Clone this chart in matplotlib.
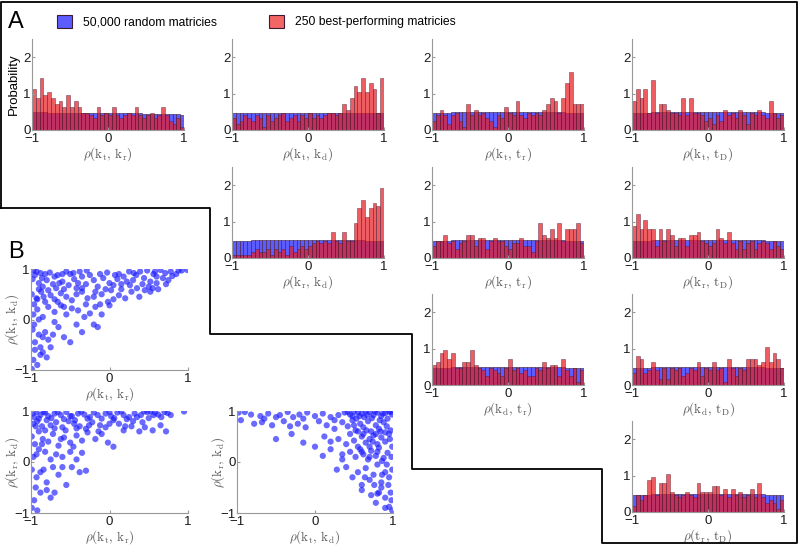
import numpy as np
import matplotlib.pyplot as plt
from matplotlib.patches import Patch
from matplotlib.lines import Line2D

plt.rcParams['font.family'] = ['Liberation Sans', 'DejaVu Sans']
plt.rcParams['mathtext.fontset'] = 'cm'

W, H = 800, 546

# 40 bins of width 0.05 on [-1, 1]
edges = np.linspace(-1, 1, 41)
centers = (edges[:-1] + edges[1:]) / 2

# --- red: 250 best-performing matrices (density) ---
red_kt_kr = [1.12, 0.88, 1.44, 0.96, 1.04, 0.88, 0.72, 0.80, 0.64, 0.96,
             0.64, 0.80, 0.64, 0.48, 0.48, 0.40, 0.32, 0.64, 0.40, 0.48,
             0.40, 0.64, 0.40, 0.32, 0.40, 0.48, 0.40, 0.64, 0.40, 0.32,
             0.40, 0.48, 0.32, 0.40, 0.64, 0.40, 0.24, 0.16, 0.32, 0.08]
red_kt_kd = [0.32, 0.16, 0.24, 0.40, 0.32, 0.24, 0.40, 0.32, 0.08, 0.40,
             0.24, 0.32, 0.40, 0.48, 0.24, 0.32, 0.40, 0.24, 0.40, 0.32,
             0.48, 0.32, 0.40, 0.32, 0.40, 0.48, 0.48, 0.40, 0.48, 0.72,
             0.56, 0.88, 1.20, 1.04, 1.44, 1.04, 1.28, 1.12, 0.48, 1.44]
red_kt_tr = [0.24, 0.40, 0.56, 0.40, 0.16, 0.40, 0.48, 0.24, 0.08, 0.72,
             0.40, 0.56, 0.40, 0.48, 0.32, 0.24, 0.08, 0.40, 0.32, 0.64,
             0.48, 0.40, 0.80, 0.40, 0.32, 0.48, 0.40, 0.48, 0.40, 0.56,
             0.72, 0.88, 0.80, 0.48, 0.88, 1.28, 1.60, 0.72, 0.72, 0.72]
red_kt_tD = [0.80, 1.12, 0.88, 1.12, 0.48, 1.36, 0.48, 0.72, 0.72, 0.56,
             0.48, 0.48, 0.40, 0.88, 0.40, 0.88, 0.48, 0.48, 0.40, 0.24,
             0.32, 0.16, 0.40, 0.24, 0.56, 0.40, 0.48, 0.32, 0.56, 0.40,
             0.16, 0.48, 0.40, 0.56, 0.40, 0.32, 0.80, 0.48, 0.32, 0.40]
red_kr_kd = [0.08, 0.08, 0.08, 0.08, 0.08, 0.16, 0.24, 0.16, 0.16, 0.24,
             0.08, 0.24, 0.16, 0.24, 0.08, 0.32, 0.16, 0.24, 0.32, 0.24,
             0.32, 0.40, 0.48, 0.40, 0.48, 0.40, 0.72, 0.48, 0.40, 0.72,
             0.48, 0.48, 0.96, 1.36, 1.60, 1.12, 1.36, 1.52, 1.44, 1.92]
red_kr_tr = [0.32, 0.48, 0.48, 0.64, 0.40, 0.48, 0.24, 0.40, 0.48, 0.64,
             0.64, 0.32, 0.56, 0.56, 0.24, 0.48, 0.56, 0.48, 0.48, 0.32,
             0.24, 0.40, 0.40, 0.56, 0.32, 0.32, 0.16, 0.48, 0.96, 0.64,
             0.56, 0.80, 0.56, 0.96, 0.48, 0.80, 0.80, 0.80, 0.96, 0.40]
red_kr_tD = [0.88, 1.20, 0.80, 1.04, 0.80, 0.80, 0.32, 0.80, 0.48, 0.80,
             0.64, 0.32, 0.56, 0.56, 0.32, 0.64, 0.64, 0.72, 0.48, 0.40,
             0.32, 0.40, 0.80, 0.56, 0.40, 0.72, 0.40, 0.24, 0.48, 0.24,
             0.40, 0.48, 0.24, 0.40, 0.48, 0.40, 0.24, 0.48, 0.32, 0.24]
red_kd_tr = [0.56, 0.64, 0.88, 0.96, 0.72, 0.88, 0.48, 0.48, 0.64, 0.64,
             0.96, 0.56, 0.48, 0.40, 0.24, 0.48, 0.40, 0.32, 0.24, 0.48,
             0.72, 0.40, 0.48, 0.32, 0.40, 0.24, 0.24, 0.48, 0.40, 0.64,
             0.48, 0.56, 0.56, 0.24, 0.72, 0.40, 0.24, 0.48, 0.08, 0.40]
red_kd_tD = [0.32, 0.80, 0.72, 0.32, 0.40, 0.64, 0.40, 0.16, 0.48, 0.16,
             0.48, 0.40, 0.48, 0.24, 0.32, 0.48, 0.40, 0.64, 0.24, 0.48,
             0.40, 0.64, 0.40, 0.48, 0.08, 0.72, 0.48, 0.24, 0.48, 0.40,
             0.72, 0.72, 0.72, 0.56, 0.64, 1.04, 0.64, 0.88, 0.72, 0.48]
red_tr_tD = [0.16, 0.48, 0.32, 0.48, 0.88, 0.96, 0.48, 0.80, 0.80, 1.04,
             0.56, 0.48, 0.40, 0.48, 0.56, 0.48, 0.40, 0.80, 0.56, 0.56,
             0.56, 0.72, 0.72, 0.48, 0.64, 0.40, 0.64, 0.48, 0.56, 0.40,
             0.48, 0.64, 0.40, 0.80, 0.40, 0.24, 0.32, 0.24, 0.08, 0.32]

# --- blue: 50,000 random matrices (density, close to uniform 0.5) ---
blue_kt_kr = [0.49, 0.49, 0.49, 0.49, 0.48, 0.48, 0.48, 0.48, 0.48, 0.48,
              0.48, 0.48, 0.48, 0.48, 0.47, 0.47, 0.47, 0.47, 0.47, 0.47,
              0.47, 0.47, 0.46, 0.46, 0.46, 0.46, 0.46, 0.46, 0.46, 0.45,
              0.45, 0.45, 0.45, 0.45, 0.44, 0.44, 0.44, 0.43, 0.43, 0.42]
blue_kt_kd = [0.46, 0.46, 0.47, 0.47, 0.47, 0.47, 0.47, 0.47, 0.48, 0.48,
              0.48, 0.48, 0.48, 0.48, 0.48, 0.48, 0.48, 0.48, 0.48, 0.48,
              0.48, 0.48, 0.48, 0.48, 0.48, 0.48, 0.48, 0.48, 0.48, 0.48,
              0.48, 0.48, 0.48, 0.48, 0.48, 0.48, 0.48, 0.48, 0.48, 0.48]
blue_flat = [0.47, 0.48, 0.48, 0.48, 0.48, 0.49, 0.49, 0.49, 0.49, 0.49,
             0.49, 0.49, 0.49, 0.49, 0.49, 0.49, 0.49, 0.49, 0.49, 0.49,
             0.49, 0.49, 0.49, 0.49, 0.49, 0.49, 0.49, 0.49, 0.49, 0.49,
             0.49, 0.49, 0.49, 0.49, 0.49, 0.48, 0.48, 0.48, 0.48, 0.47]

# (row, col, label, red, blue)
hist_panels = [
    (0, 0, r'$\rho(\mathrm{k_t},\,\mathrm{k_r})$', red_kt_kr, blue_kt_kr),
    (0, 1, r'$\rho(\mathrm{k_t},\,\mathrm{k_d})$', red_kt_kd, blue_kt_kd),
    (0, 2, r'$\rho(\mathrm{k_t},\,\mathrm{t_r})$', red_kt_tr, blue_flat),
    (0, 3, r'$\rho(\mathrm{k_t},\,\mathrm{t_D})$', red_kt_tD, blue_flat),
    (1, 1, r'$\rho(\mathrm{k_r},\,\mathrm{k_d})$', red_kr_kd, blue_flat),
    (1, 2, r'$\rho(\mathrm{k_r},\,\mathrm{t_r})$', red_kr_tr, blue_flat),
    (1, 3, r'$\rho(\mathrm{k_r},\,\mathrm{t_D})$', red_kr_tD, blue_flat),
    (2, 2, r'$\rho(\mathrm{k_d},\,\mathrm{t_r})$', red_kd_tr, blue_flat),
    (2, 3, r'$\rho(\mathrm{k_d},\,\mathrm{t_D})$', red_kd_tD, blue_flat),
    (3, 3, r'$\rho(\mathrm{t_r},\,\mathrm{t_D})$', red_tr_tD, blue_flat),
]

# --- B: scatter of the 250 best matrices ---
pts_b1 = [  # x = rho(kt,kr), y = rho(kt,kd)
    (-0.97, 0.97), (-0.93, 0.95), (-0.88, 0.92), (-0.82, 0.90), (-0.76, 0.93), (-0.66, 0.88),
    (-0.55, 0.95), (-0.50, 0.90), (-0.35, 0.85), (-0.29, 0.97), (-0.12, 0.90), (-0.03, 0.93),
    (0.07, 0.88), (0.18, 0.85), (0.31, 0.92), (0.39, 0.95), (0.48, 0.97), (0.56, 0.90),
    (0.65, 0.98), (0.71, 0.92), (0.92, 0.97), (0.99, 0.98),
    (-0.98, 0.80), (-0.90, 0.72), (-0.85, 0.65), (-0.80, 0.78), (-0.72, 0.70), (-0.68, 0.62),
    (-0.60, 0.75), (-0.52, 0.68), (-0.45, 0.80), (-0.40, 0.72), (-0.35, 0.62), (-0.30, 0.70),
    (-0.20, 0.78), (-0.15, 0.65), (-0.05, 0.60), (0.00, 0.72), (0.05, 0.68), (0.10, 0.80),
    (0.15, 0.70), (0.22, 0.75), (0.30, 0.78), (0.35, 0.62), (0.42, 0.70), (0.45, 0.58),
    (0.50, 0.65), (0.55, 0.62), (0.60, 0.72), (0.68, 0.82), (0.75, 0.78), (0.80, 0.86),
    (-0.99, 0.50), (-0.93, 0.42), (-0.87, 0.55), (-0.82, 0.35), (-0.75, 0.48), (-0.70, 0.40),
    (-0.62, 0.52), (-0.55, 0.45), (-0.48, 0.38), (-0.42, 0.50), (-0.35, 0.55), (-0.28, 0.42),
    (-0.20, 0.45), (-0.10, 0.50), (-0.02, 0.35), (0.05, 0.40), (0.12, 0.48), (0.20, 0.42),
    (0.28, 0.55), (0.38, 0.45), (0.52, 0.55),
    (-0.97, 0.10), (-0.92, 0.20), (-0.85, 0.05), (-0.78, 0.25), (-0.70, 0.15), (-0.62, 0.28),
    (-0.55, 0.10), (-0.48, 0.22), (-0.40, 0.18), (-0.32, 0.05), (-0.25, 0.12), (-0.18, 0.25),
    (-0.10, 0.10), (0.00, 0.28),
    (-0.98, -0.20), (-0.95, -0.45), (-0.90, -0.30), (-0.85, -0.35), (-0.82, -0.25), (-0.78, -0.40),
    (-0.72, -0.30), (-0.65, -0.15), (-0.58, -0.35), (-0.50, -0.45), (-0.42, -0.10), (-0.35, -0.25),
    (-0.20, -0.10), (-0.15, -0.15),
    (-0.99, -0.98), (-0.97, -0.80), (-0.95, -0.60), (-0.92, -0.90), (-0.88, -0.70), (-0.85, -0.65),
    (-0.80, -0.75), (-0.75, -0.55),
    (-0.95, 0.88), (-0.90, 0.60), (-0.86, 0.82), (-0.78, 0.58), (-0.70, 0.85), (-0.64, 0.72),
    (-0.58, 0.60), (-0.46, 0.92), (-0.42, 0.62), (-0.25, 0.88), (-0.18, 0.55), (-0.08, 0.82),
    (0.02, 0.58), (0.12, 0.90), (0.26, 0.68), (0.34, 0.88), (0.44, 0.82), (0.52, 0.75),
    (0.58, 0.95), (0.62, 0.60), (0.72, 0.70), (0.78, 0.95), (0.85, 0.90), (-0.96, 0.30),
    (-0.90, 0.00), (-0.84, 0.45), (-0.66, 0.35), (-0.58, 0.25), (-0.30, 0.30), (-0.12, 0.30),
    (0.15, 0.60), (-0.96, -0.10), (-0.88, -0.55), (-0.70, -0.05), (-0.92, 0.40), (-0.60, 0.90),
    (-0.38, 0.95), (0.25, 0.95), (0.60, 0.85), (0.88, 0.97),
]
pts_b2 = [  # x = rho(kt,kr), y = rho(kr,kd)
    (-0.98, 0.95), (-0.93, 0.98), (-0.88, 0.92), (-0.82, 0.97), (-0.78, 0.90), (-0.70, 0.95),
    (-0.62, 0.92), (-0.55, 0.98), (-0.48, 0.90), (-0.40, 0.95), (-0.32, 0.93), (-0.25, 0.88),
    (-0.15, 0.92), (-0.05, 0.95), (0.02, 0.90), (0.10, 0.97), (0.18, 0.92), (0.25, 0.88),
    (0.32, 0.95), (0.40, 0.92), (0.48, 0.98), (0.52, 0.99), (0.58, 0.97), (0.62, 0.93),
    (0.70, 0.98), (0.78, 0.92), (0.95, 0.99),
    (-0.97, 0.75), (-0.92, 0.80), (-0.86, 0.70), (-0.80, 0.82), (-0.75, 0.72), (-0.68, 0.78),
    (-0.60, 0.68), (-0.52, 0.80), (-0.45, 0.75), (-0.38, 0.70), (-0.30, 0.65), (-0.22, 0.78),
    (-0.12, 0.72), (-0.05, 0.68), (0.05, 0.82), (0.12, 0.75), (0.20, 0.70), (0.30, 0.80),
    (0.38, 0.60), (0.45, 0.68), (0.55, 0.62), (0.65, 0.72), (0.72, 0.60),
    (-0.99, 0.50), (-0.95, 0.35), (-0.90, 0.60), (-0.85, 0.45), (-0.78, 0.40), (-0.72, 0.55),
    (-0.65, 0.32), (-0.58, 0.48), (-0.50, 0.38), (-0.42, 0.52), (-0.35, 0.42), (-0.28, 0.58),
    (-0.18, 0.45), (-0.10, 0.55), (-0.02, 0.38), (0.05, 0.30),
    (-0.97, 0.10), (-0.90, 0.25), (-0.82, 0.20), (-0.75, 0.05), (-0.68, 0.15), (-0.60, 0.10),
    (-0.50, 0.20), (-0.42, 0.05), (-0.35, 0.18),
    (-0.99, -0.15), (-0.93, -0.30), (-0.88, -0.20), (-0.80, -0.40), (-0.72, -0.10), (-0.65, -0.25),
    (-0.55, -0.45), (-0.48, -0.10), (-0.38, -0.20), (-0.30, -0.17),
    (-0.99, -0.90), (-0.96, -0.75), (-0.92, -0.95), (-0.88, -0.60), (-0.80, -0.55), (-0.75, -0.70),
    (-0.70, -0.60),
    (-0.96, 0.88), (-0.90, 0.85), (-0.84, 0.98), (-0.74, 0.86), (-0.66, 0.98), (-0.58, 0.84),
    (-0.50, 0.90), (-0.44, 0.82), (-0.36, 0.99), (-0.28, 0.85), (-0.20, 0.97), (-0.10, 0.85),
    (0.00, 0.98), (0.06, 0.86), (0.15, 0.99), (0.22, 0.84), (0.35, 0.88), (0.44, 0.99),
    (0.50, 0.86), (0.56, 0.92), (0.66, 0.88), (0.74, 0.96), (-0.94, 0.70), (-0.82, 0.62),
    (-0.70, 0.66), (-0.56, 0.62), (-0.42, 0.66), (-0.26, 0.72), (-0.14, 0.60), (0.00, 0.75),
    (0.18, 0.62), (0.28, 0.70), (-0.93, 0.15), (-0.86, 0.35), (-0.62, 0.45), (-0.46, 0.30),
    (-0.94, -0.50), (-0.84, -0.15), (-0.60, -0.10), (0.42, 0.78),
]
pts_b3 = [  # x = rho(kt,kd), y = rho(kr,kd)
    (-0.98, 0.97), (-0.90, 0.98), (-0.82, 0.93), (-0.70, 0.90), (-0.60, 0.95), (-0.45, 0.92),
    (-0.35, 0.98), (-0.28, 0.88), (-0.20, 0.93), (-0.10, 0.97), (0.00, 0.90), (0.10, 0.95),
    (0.20, 0.88), (0.30, 0.92), (0.38, 0.97), (0.45, 0.93), (0.50, 0.99), (0.55, 0.97),
    (0.60, 0.95), (0.65, 0.99), (0.70, 0.98), (0.75, 0.92), (0.80, 0.97), (0.85, 0.90),
    (0.90, 0.96), (0.95, 0.99), (0.99, 0.93),
    (-0.95, 0.82), (-0.78, 0.75), (-0.68, 0.78), (-0.55, 0.72), (-0.40, 0.80), (-0.32, 0.70),
    (-0.22, 0.75), (-0.12, 0.68), (0.05, 0.80), (0.15, 0.72), (0.25, 0.65), (0.35, 0.78),
    (0.42, 0.70), (0.48, 0.82), (0.52, 0.62), (0.58, 0.75), (0.62, 0.68), (0.68, 0.80),
    (0.72, 0.60), (0.78, 0.72), (0.82, 0.65), (0.88, 0.78), (0.92, 0.70), (0.97, 0.62),
    (-0.50, 0.45), (-0.30, 0.55), (-0.15, 0.38), (0.00, 0.30), (0.12, 0.50), (0.30, 0.45),
    (0.40, 0.35), (0.45, 0.55), (0.50, 0.42), (0.55, 0.30), (0.60, 0.50), (0.65, 0.38),
    (0.70, 0.45), (0.75, 0.52), (0.80, 0.35), (0.85, 0.48), (0.90, 0.40), (0.95, 0.55),
    (0.99, 0.30),
    (0.10, 0.12), (0.20, 0.25), (0.35, 0.05), (0.45, 0.20), (0.52, 0.10), (0.58, 0.25),
    (0.62, 0.15), (0.68, 0.05), (0.72, 0.22), (0.78, 0.12), (0.82, 0.28), (0.88, 0.08),
    (0.93, 0.18), (0.98, 0.10),
    (0.28, -0.15), (0.40, -0.10), (0.48, -0.30), (0.55, -0.20), (0.60, -0.45), (0.65, -0.12),
    (0.70, -0.35), (0.75, -0.25), (0.80, -0.05), (0.85, -0.40), (0.90, -0.20), (0.95, -0.30),
    (0.99, -0.15),
    (0.60, -0.55), (0.72, -0.65), (0.78, -0.80), (0.82, -0.60), (0.85, -0.50), (0.90, -0.70),
    (0.95, -0.88), (0.97, -0.60), (0.99, -0.95),
    (0.42, 0.98), (0.48, 0.90), (0.53, 0.85), (0.57, 0.90), (0.63, 0.88), (0.67, 0.92),
    (0.73, 0.86), (0.77, 0.99), (0.83, 0.82), (0.87, 0.95), (0.93, 0.85), (0.97, 0.98),
    (0.50, 0.72), (0.55, 0.60), (0.62, 0.55), (0.66, 0.62), (0.74, 0.40), (0.78, 0.55),
    (0.84, 0.60), (0.90, 0.58), (0.96, 0.45), (0.60, 0.20), (0.70, 0.30), (0.80, 0.20),
    (0.86, 0.02), (0.92, -0.05), (0.64, -0.30), (0.76, -0.45), (0.86, -0.25), (0.94, -0.45),
    (0.90, -0.90), (0.80, -0.62), (-0.65, 0.85), (-0.50, 0.88), (-0.15, 0.85), (0.25, 0.82),
    (0.20, 0.40), (0.35, 0.15), (0.98, -0.75), (0.70, 0.10),
]

# (left, top, width, height in px, points, xlabel, ylabel)
scatter_panels = [
    (31, 269, 157, 101, pts_b1, r'$\rho(\mathrm{k_t},\,\mathrm{k_r})$', r'$\rho(\mathrm{k_t},\,\mathrm{k_d})$'),
    (31, 411, 157, 102, pts_b2, r'$\rho(\mathrm{k_t},\,\mathrm{k_r})$', r'$\rho(\mathrm{k_r},\,\mathrm{k_d})$'),
    (237, 411, 156, 102, pts_b3, r'$\rho(\mathrm{k_t},\,\mathrm{k_d})$', r'$\rho(\mathrm{k_r},\,\mathrm{k_d})$'),
]

blue_c = (0.36, 0.36, 1.0)
red_c = (0.9, 0.12, 0.15)
edge_c = (0.25, 0.1, 0.2)
axis_c = '0.6'


def add_ax(fig, left, top, width, height):
    return fig.add_axes([left / W, 1 - (top + height) / H, width / W, height / H])


def style(ax):
    ax.spines['top'].set_visible(False)
    ax.spines['right'].set_visible(False)
    for s in ['left', 'bottom']:
        ax.spines[s].set_color(axis_c)
        ax.spines[s].set_linewidth(0.8)
    ax.tick_params(direction='in', length=2.5, color=axis_c, labelsize=9.5,
                   labelcolor='0.1')
    ax.tick_params(axis='x', pad=2)
    ax.tick_params(axis='y', pad=1)


fig = plt.figure(figsize=(W / 100, H / 100), dpi=100)

row_tops = [39, 167, 294, 421]
for row, col, label, red, blue in hist_panels:
    ax = add_ax(fig, 32 + 200 * col, row_tops[row], 152, 91)
    ax.bar(centers, blue, width=0.05, color=blue_c, edgecolor=edge_c, linewidth=0.4)
    ax.bar(centers, red, width=0.05, color=red_c, alpha=0.72, edgecolor=edge_c, linewidth=0.4)
    ax.set_xlim(-1, 1)
    ax.set_ylim(0, 2.5)
    ax.set_xticks([-1, 0, 1])
    ax.set_yticks([0, 1, 2])
    style(ax)
    ax.set_xlabel(label, fontsize=9.5, color='0.35', labelpad=0)
    if row == 0 and col == 0:
        ax.set_ylabel('Probability', fontsize=9.5, labelpad=2)

for left, top, w, h, pts, xl, yl in scatter_panels:
    ax = add_ax(fig, left, top, w, h)
    x, y = np.array(pts).T
    ax.scatter(x, y, s=20, color=(0.1, 0.1, 1.0), alpha=0.65, edgecolors='none')
    ax.set_xlim(-1, 1)
    ax.set_ylim(-1, 1)
    ax.set_xticks([-1, 0, 1])
    ax.set_yticks([-1, 0, 1])
    style(ax)
    ax.set_xlabel(xl, fontsize=9.5, color='0.35', labelpad=0)
    ax.set_ylabel(yl, fontsize=9.5, color='0.35')
    ax.yaxis.set_label_coords(-10 / w, 0.5)

# staircase frame around panel A
frame = [(1, 208), (1, 2), (797, 2), (797, 543), (602, 543), (602, 469),
         (412, 469), (412, 334), (210, 334), (210, 208), (1, 208)]
fx = [p[0] / W for p in frame]
fy = [1 - p[1] / H for p in frame]
fig.add_artist(Line2D(fx, fy, transform=fig.transFigure, color='black', lw=1.3))

fig.text(8 / W, 1 - 28 / H, 'A', fontsize=17)
fig.text(8 / W, 1 - 258 / H, 'B', fontsize=17)

handles = [Patch(facecolor=blue_c, edgecolor=edge_c, linewidth=0.8),
           Patch(facecolor=(0.95, 0.4, 0.4), edgecolor=edge_c, linewidth=0.8)]
fig.legend(handles, ['50,000 random matricies', '250 best-performing matricies'],
           loc='upper left', bbox_to_anchor=(46 / W, 1 - 4 / H), ncol=2, frameon=False,
           fontsize=8.7, handlelength=1.25, handleheight=1.25, columnspacing=4.3,
           handletextpad=0.9)

fig.savefig('out.png', dpi=100)
